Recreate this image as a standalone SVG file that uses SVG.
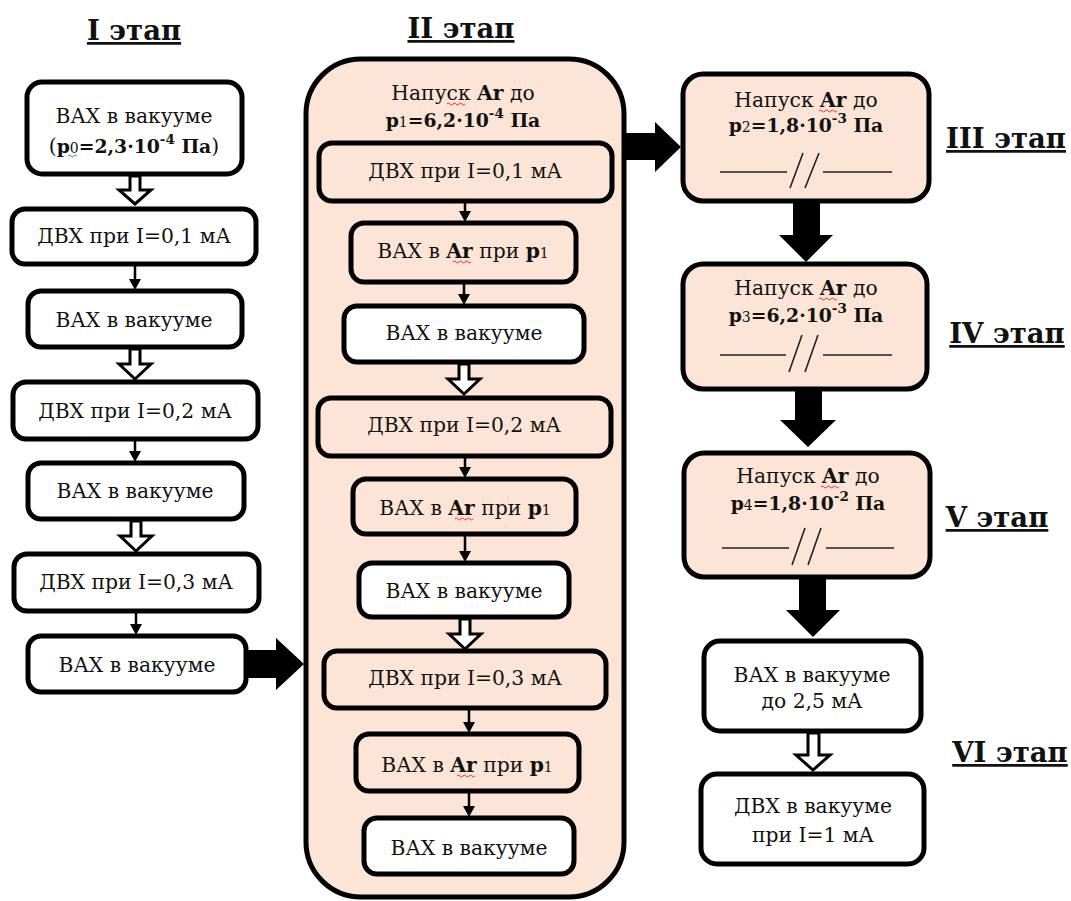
<svg xmlns="http://www.w3.org/2000/svg" width="1071" height="901" viewBox="0 0 1071 901">
<style>
.t{font-family:"DejaVu Serif","Liberation Serif",serif;font-size:20.3px;fill:#111;text-anchor:middle}
.b{font-weight:bold}
.bl{font-weight:bold;font-size:18.8px}
.title{font-family:"DejaVu Serif","Liberation Serif",serif;font-size:27.5px;font-weight:bold;fill:#111;text-anchor:middle;text-decoration:underline}
.box{fill:#fff;stroke:#000;stroke-width:5}
.pbox{fill:#fce4d6;stroke:#000;stroke-width:5}
.hollow{fill:#fff;stroke:#000;stroke-width:3;stroke-linejoin:miter}
.thin{stroke:#000;stroke-width:2.5;fill:none}
.head{fill:#000}
.big{fill:#000}
.brk{stroke:#222;stroke-width:1.6;fill:none}
.sq{stroke:#e03030;stroke-width:1;fill:none}
.sqg{stroke:#30a030;stroke-width:1;fill:none}
</style>

<!-- Titles -->
<g id="titles">
<text class="title" x="134" y="40">I этап</text>
<text class="title" x="461" y="38">II этап</text>
<text class="title" x="1006" y="148">III этап</text>
<text class="title" x="1007" y="343">IV этап</text>
<text class="title" x="997" y="527">V этап</text>
<text class="title" x="1010" y="762">VI этап</text>
</g>

<!-- Stage II container -->
<g id="stage2">
<rect class="pbox" x="306" y="59" width="318" height="838" rx="55"/>
<text class="t" x="463" y="100">Напуск <tspan class="b">Ar</tspan> до</text>
<path class="sq" d="M447 104 q1.5 -2 3 0 t3 0 t3 0 t3 0 t3 0 t3 0"/>
<text class="t bl" x="463" y="127">p<tspan font-size="14" font-weight="normal">1</tspan>=6,2·10<tspan font-size="13.5" dy="-9">-4</tspan><tspan dy="9"> Па</tspan></text>
</g>

<!-- Connectors -->
<g id="connectors">
<!-- column 1 -->
<polygon class="hollow" points="130,176 140,176 140,190 151,190 135,204 119,190 130,190"/>
<line class="thin" x1="135" y1="265" x2="135" y2="281"/><polygon class="head" points="129,279 141,279 135,290"/>
<polygon class="hollow" points="130,349 140,349 140,364 151,364 135,379 119,364 130,364"/>
<line class="thin" x1="135" y1="441" x2="135" y2="453"/><polygon class="head" points="129,451 141,451 135,462"/>
<polygon class="hollow" points="131,521 141,521 141,536 152,536 136,551 120,536 131,536"/>
<line class="thin" x1="136" y1="613" x2="136" y2="626"/><polygon class="head" points="130,624 142,624 136,635"/>
<polygon class="big" points="247,650 276,650 276,638 304,664 276,690 276,678 247,678"/>
<!-- column 2 -->
<line class="thin" x1="465" y1="203" x2="465" y2="213"/><polygon class="head" points="459,211 471,211 465,222"/>
<line class="thin" x1="464" y1="284" x2="464" y2="296"/><polygon class="head" points="458,294 470,294 464,305"/>
<polygon class="hollow" points="459,364 469,364 469,379 480,379 464,394 448,379 459,379"/>
<line class="thin" x1="465" y1="458" x2="465" y2="469"/><polygon class="head" points="459,467 471,467 465,478"/>
<line class="thin" x1="465" y1="536" x2="465" y2="553"/><polygon class="head" points="459,551 471,551 465,562"/>
<polygon class="hollow" points="460,619 470,619 470,634 481,634 465,649 449,634 460,634"/>
<line class="thin" x1="469" y1="710" x2="469" y2="724"/><polygon class="head" points="463,722 475,722 469,733"/>
<line class="thin" x1="469" y1="793" x2="469" y2="808"/><polygon class="head" points="463,806 475,806 469,817"/>
<!-- stage II -> III -->
<polygon class="big" points="626,133 655,133 655,122 681,147 655,172 655,160 626,160"/>
<!-- column 3 -->
<polygon class="big" points="793,203 820,203 820,235 833,235 806,262 779,235 793,235"/>
<polygon class="big" points="795,391 822,391 822,420 836,420 808,447 780,420 795,420"/>
<polygon class="big" points="799,579 826,579 826,610 840,610 813,637 786,610 799,610"/>
<polygon class="hollow" points="808,733 819,733 819,755 830,755 813,770 796,755 808,755"/>
</g>

<!-- Stage I nodes -->
<g id="n1a"><rect class="box" x="27" y="82" width="215" height="92" rx="15"/>
<text class="t" x="134" y="123">ВАХ в вакууме</text>
<text class="t" x="134" y="153">(<tspan class="bl">p</tspan><tspan font-size="14">0</tspan><tspan class="bl">=2,3·10</tspan><tspan class="b" font-size="13.5" dy="-9">-4</tspan><tspan class="bl" dy="9"> Па</tspan>)</text>
<path class="sqg" d="M68 156 q1.5 -2 3 0 t3 0 t3 0"/>
</g>
<g id="n1b"><rect class="box" x="12" y="209" width="244" height="55" rx="13"/>
<text class="t" x="134" y="243">ДВХ при I=0,1 мА</text></g>
<g id="n1c"><rect class="box" x="28" y="291" width="214" height="56" rx="13"/>
<text class="t" x="134" y="327">ВАХ в вакууме</text></g>
<g id="n1d"><rect class="box" x="13" y="382" width="245" height="57" rx="13"/>
<text class="t" x="135" y="418">ДВХ при I=0,2 мА</text></g>
<g id="n1e"><rect class="box" x="28" y="463" width="216" height="56" rx="13"/>
<text class="t" x="135" y="498">ВАХ в вакууме</text></g>
<g id="n1f"><rect class="box" x="14" y="554" width="245" height="57" rx="13"/>
<text class="t" x="136" y="589">ДВХ при I=0,3 мА</text></g>
<g id="n1g"><rect class="box" x="28" y="636" width="218" height="56" rx="13"/>
<text class="t" x="137" y="672">ВАХ в вакууме</text></g>

<!-- Stage II nodes -->
<g id="n2a"><rect class="pbox" x="319" y="143" width="293" height="58" rx="13"/>
<text class="t" x="465" y="178">ДВХ при I=0,1 мА</text></g>
<g id="n2b"><rect class="pbox" x="351" y="223" width="225" height="59" rx="13"/>
<text class="t" x="463" y="258">ВАХ в <tspan class="b">Ar</tspan> при <tspan class="b">p</tspan><tspan font-size="14">1</tspan></text>
<path class="sq" d="M453 262 q1.5 -2 3 0 t3 0 t3 0 t3 0 t3 0 t3 0"/></g>
<g id="n2c"><rect class="box" x="344" y="306" width="240" height="56" rx="13"/>
<text class="t" x="464" y="340">ВАХ в вакууме</text></g>
<g id="n2d"><rect class="pbox" x="318" y="398" width="293" height="58" rx="13"/>
<text class="t" x="464" y="432">ДВХ при I=0,2 мА</text></g>
<g id="n2e"><rect class="pbox" x="353" y="479" width="223" height="55" rx="13"/>
<text class="t" x="465" y="515">ВАХ в <tspan class="b">Ar</tspan> при <tspan class="b">p</tspan><tspan font-size="14">1</tspan></text>
<path class="sq" d="M455 519 q1.5 -2 3 0 t3 0 t3 0 t3 0 t3 0 t3 0"/></g>
<g id="n2f"><rect class="box" x="359" y="563" width="210" height="54" rx="13"/>
<text class="t" x="464" y="598">ВАХ в вакууме</text></g>
<g id="n2g"><rect class="pbox" x="324" y="651" width="282" height="57" rx="13"/>
<text class="t" x="465" y="685">ДВХ при I=0,3 мА</text></g>
<g id="n2h"><rect class="pbox" x="356" y="734" width="223" height="57" rx="13"/>
<text class="t" x="467" y="772">ВАХ в <tspan class="b">Ar</tspan> при <tspan class="b">p</tspan><tspan font-size="14">1</tspan></text>
<path class="sq" d="M457 776 q1.5 -2 3 0 t3 0 t3 0 t3 0 t3 0 t3 0"/></g>
<g id="n2i"><rect class="box" x="364" y="818" width="210" height="56" rx="13"/>
<text class="t" x="469" y="855">ВАХ в вакууме</text></g>

<!-- Stage III -->
<g id="n3"><rect class="pbox" x="683" y="74" width="246" height="127" rx="20"/>
<text class="t" x="806" y="107">Напуск <tspan class="b">Ar</tspan> до</text>
<path class="sq" d="M819 111 q1.5 -2 3 0 t3 0 t3 0 t3 0 t3 0 t3 0"/>
<text class="t bl" x="806" y="132">p<tspan font-size="14" font-weight="normal">2</tspan>=1,8·10<tspan font-size="13.5" dy="-9">-3</tspan><tspan dy="9"> Па</tspan></text>
<path class="brk" d="M720 172 H787 M790 188 L803 153 M805 188 L819 153 M823 172 H892"/>
</g>
<!-- Stage IV -->
<g id="n4"><rect class="pbox" x="683" y="264" width="244" height="125" rx="20"/>
<text class="t" x="806" y="295">Напуск <tspan class="b">Ar</tspan> до</text>
<path class="sq" d="M819 299 q1.5 -2 3 0 t3 0 t3 0 t3 0 t3 0 t3 0"/>
<text class="t bl" x="806" y="322">p<tspan font-size="14" font-weight="normal">3</tspan>=6,2·10<tspan font-size="13.5" dy="-9">-3</tspan><tspan dy="9"> Па</tspan></text>
<path class="brk" d="M720 355 H786 M789 372 L802 335 M805 372 L818 335 M823 355 H892"/>
</g>
<!-- Stage V -->
<g id="n5"><rect class="pbox" x="684" y="453" width="246" height="124" rx="20"/>
<text class="t" x="808" y="483">Напуск <tspan class="b">Ar</tspan> до</text>
<path class="sq" d="M821 487 q1.5 -2 3 0 t3 0 t3 0 t3 0 t3 0 t3 0"/>
<text class="t bl" x="808" y="510">p<tspan font-size="14" font-weight="normal">4</tspan>=1,8·10<tspan font-size="13.5" dy="-9">-2</tspan><tspan dy="9"> Па</tspan></text>
<path class="brk" d="M722 548 H789 M792 565 L805 528 M808 565 L821 528 M826 548 H894"/>
</g>
<!-- Stage VI -->
<g id="n6a"><rect class="box" x="704" y="641" width="217" height="90" rx="16"/>
<text class="t" x="812" y="682">ВАХ в вакууме</text>
<text class="t" x="812" y="708">до 2,5 мА</text></g>
<g id="n6b"><rect class="box" x="701" y="774" width="223" height="90" rx="16"/>
<text class="t" x="813" y="813">ДВХ в вакууме</text>
<text class="t" x="813" y="842">при I=1 мА</text></g>
</svg>
